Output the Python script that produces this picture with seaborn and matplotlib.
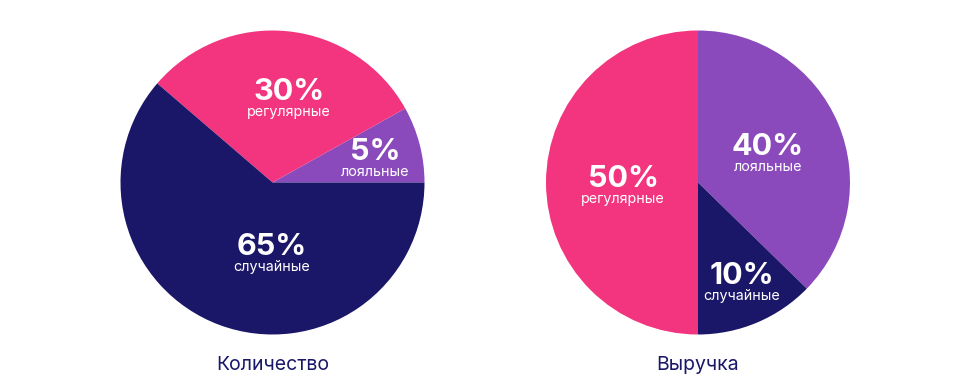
import matplotlib
matplotlib.use("Agg")
import matplotlib.pyplot as plt
import seaborn as sns

# ---------------- data ----------------
titles = ["Количество", "Выручка"]
segments = ["лояльные", "регулярные", "случайные"]

# percentages written on the chart
qty_pct = [5, 30, 65]
rev_pct = [40, 50, 10]

# wedge shares as drawn in the picture (in %)
qty_share = [8.1, 30.6, 61.3]
rev_share = [37.3, 50.0, 12.7]

colors = {"лояльные": "#8a4abb", "регулярные": "#f2357e", "случайные": "#1a1668"}
navy = "#1a1668"

# ---------------- layout ----------------
sns.set_theme(style="white")
plt.rcParams["font.family"] = ["Inter", "DejaVu Sans"]

fig = plt.figure(figsize=(9.6, 3.91), dpi=100)
R = 152  # pie radius in px
centers = [(272.5, 182.5), (698, 182.5)]

# label anchor (px) for each segment, per pie
label_px = [
    {"лояльные": (375, 152), "регулярные": (289, 92), "случайные": (272, 247)},
    {"лояльные": (768, 147), "регулярные": (623, 179), "случайные": (742, 276)},
]

for i, (share, pct) in enumerate([(qty_share, qty_pct), (rev_share, rev_pct)]):
    cx, cy = centers[i]
    ax = fig.add_axes([(cx - R) / 960, (391 - cy - R) / 391, 2 * R / 960, 2 * R / 391])
    if i == 0:
        order = [0, 1, 2]
        sa, cc = 0, True
    else:
        order = [0, 2, 1]  # clockwise from top: loyal, random, regular
        sa, cc = 90, False
    ax.pie([share[k] for k in order], colors=[colors[segments[k]] for k in order],
           startangle=sa, counterclock=cc, radius=1,
           wedgeprops=dict(linewidth=0))
    ax.set_xlim(-1, 1)
    ax.set_ylim(-1, 1)
    ax.set_aspect("equal")
    ax.axis("off")

    for k, seg in enumerate(segments):
        px, py = label_px[i][seg]
        x = (px - cx) / R
        y = (cy - py) / R
        ax.text(x, y, f"{pct[k]}%", color="white", fontsize=22, fontweight="bold",
                ha="center", va="center")
        ax.text(x, y - 20 / R, seg, color="white", fontsize=10.3,
                ha="center", va="center")

    fig.text(cx / 960, 1 - 365 / 391, titles[i], color=navy, fontsize=14,
             ha="center", va="center")

fig.savefig("out.png", dpi=100, facecolor="white")
